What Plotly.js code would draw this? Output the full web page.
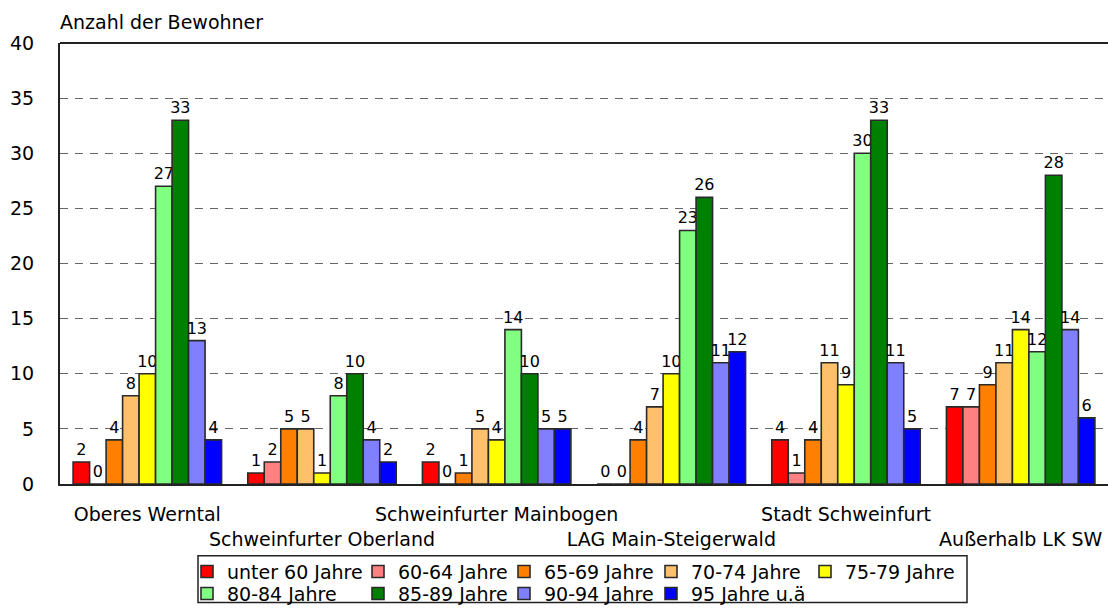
<!DOCTYPE html>
<html>
<head>
<meta charset="utf-8">
<script src="https://cdn.plot.ly/plotly-3.0.1.min.js"></script>
<style>html,body{margin:0;padding:0;background:#fff;}#chart{width:1108px;height:613px;}</style>
</head>
<body>
<div id="chart"></div>
<script>
const categories = ["Oberes Werntal", "Schweinfurter Oberland", "Schweinfurter Mainbogen", "LAG Main-Steigerwald", "Stadt Schweinfurt", "Außerhalb LK SW"];
const seriesNames = ["unter 60 Jahre", "60-64 Jahre", "65-69 Jahre", "70-74 Jahre", "75-79 Jahre", "80-84 Jahre", "85-89 Jahre", "90-94 Jahre", "95 Jahre u.ä."];
const unter60 = [2, 1, 2, 0, 4, 7];
const j60_64 = [0, 2, 0, 0, 1, 7];
const j65_69 = [4, 5, 1, 4, 4, 9];
const j70_74 = [8, 5, 5, 7, 11, 11];
const j75_79 = [10, 1, 4, 10, 9, 14];
const j80_84 = [27, 8, 14, 23, 30, 12];
const j85_89 = [33, 10, 10, 26, 33, 28];
const j90_94 = [13, 4, 5, 11, 11, 14];
const j95plus = [4, 2, 5, 12, 5, 6];
const yTicks = [0, 5, 10, 15, 20, 25, 30, 35, 40];

const seriesValues = [unter60, j60_64, j65_69, j70_74, j75_79, j80_84, j85_89, j90_94, j95plus];
const colors = ["#FF0000", "#FF8080", "#FF8000", "#FFC06C", "#FFFF00", "#80FF80", "#008000", "#8080FF", "#0000FF"];
const legendWidths = [126, 101, 102, 109, 160];

const font = "DejaVu Sans, Verdana, sans-serif";
const traces = seriesValues.map((vals, i) => ({
  type: "bar",
  name: seriesNames[i],
  x: categories,
  y: vals,
  text: vals.map(String),
  textposition: "outside",
  constraintext: "none",
  cliponaxis: false,
  textfont: {family: font, size: 16, color: "#000"},
  marker: {color: colors[i], line: {color: "#2a2a2a", width: 1.6}},
  legend: i < 5 ? "legend" : "legend2",
  legendwidth: legendWidths[i % 5],
  hoverinfo: "x+y+name"
}));

const tickText = categories.map((c, i) => i % 2 === 1 ? "<br>" + c : c);

const L = 60, W = 1048, T = 43, H = 443;
const px = v => (v - L) / W;
const py = v => (T + H - v) / H;

const legendFont = {family: font, size: 19, color: "#000"};

const layout = {
  width: 1108, height: 613,
  margin: {l: L, r: 0, t: T, b: 613 - T - H, pad: 0},
  paper_bgcolor: "#fff", plot_bgcolor: "#fff",
  font: {family: font, size: 19, color: "#000"},
  barmode: "group",
  bargap: 0.15,
  bargroupgap: 0,
  showlegend: true,
  xaxis: {
    type: "category",
    tickvals: categories,
    ticktext: tickText,
    tickangle: 0,
    showline: true, linecolor: "#222", linewidth: 2,
    ticks: "",
    ticklabelstandoff: 12,
    tickfont: {family: font, size: 19, color: "#000"},
    showgrid: false, zeroline: false,
    fixedrange: true
  },
  yaxis: {
    range: [0, 40],
    tickvals: yTicks,
    ticktext: yTicks.map(String),
    showline: true, linecolor: "#222", linewidth: 2,
    ticks: "",
    ticklabelstandoff: 20,
    tickfont: {family: font, size: 19, color: "#000"},
    showgrid: true, gridcolor: "#666", griddash: "8px,7px", gridwidth: 1,
    zeroline: false,
    fixedrange: true
  },
  shapes: [
    {type: "line", xref: "paper", yref: "paper", x0: 0, x1: 1, y0: 1, y1: 1, line: {color: "#222", width: 2}},
    {type: "rect", xref: "paper", yref: "paper", x0: px(198), x1: px(967), y0: py(558), y1: py(605), line: {color: "#222", width: 1.5}, fillcolor: "rgba(0,0,0,0)"}
  ],
  annotations: [
    {text: "Anzahl der Bewohner", xref: "paper", yref: "paper", x: px(58), y: py(22), xanchor: "left", yanchor: "middle", showarrow: false, font: {family: font, size: 19, color: "#000"}}
  ],
  legend: {
    orientation: "h", x: px(187), y: py(555), xanchor: "left", yanchor: "top",
    borderwidth: 0, bgcolor: "rgba(0,0,0,0)",
    font: legendFont,
    itemwidth: 30, tracegroupgap: 0, traceorder: "normal", itemclick: false, itemdoubleclick: false
  },
  legend2: {
    orientation: "h", x: px(187), y: py(577), xanchor: "left", yanchor: "top",
    borderwidth: 0, bgcolor: "rgba(0,0,0,0)",
    font: legendFont,
    itemwidth: 30, tracegroupgap: 0, traceorder: "normal", itemclick: false, itemdoubleclick: false
  }
};

Plotly.newPlot("chart", traces, layout, {displayModeBar: false, staticPlot: true});
</script>
</body>
</html>
